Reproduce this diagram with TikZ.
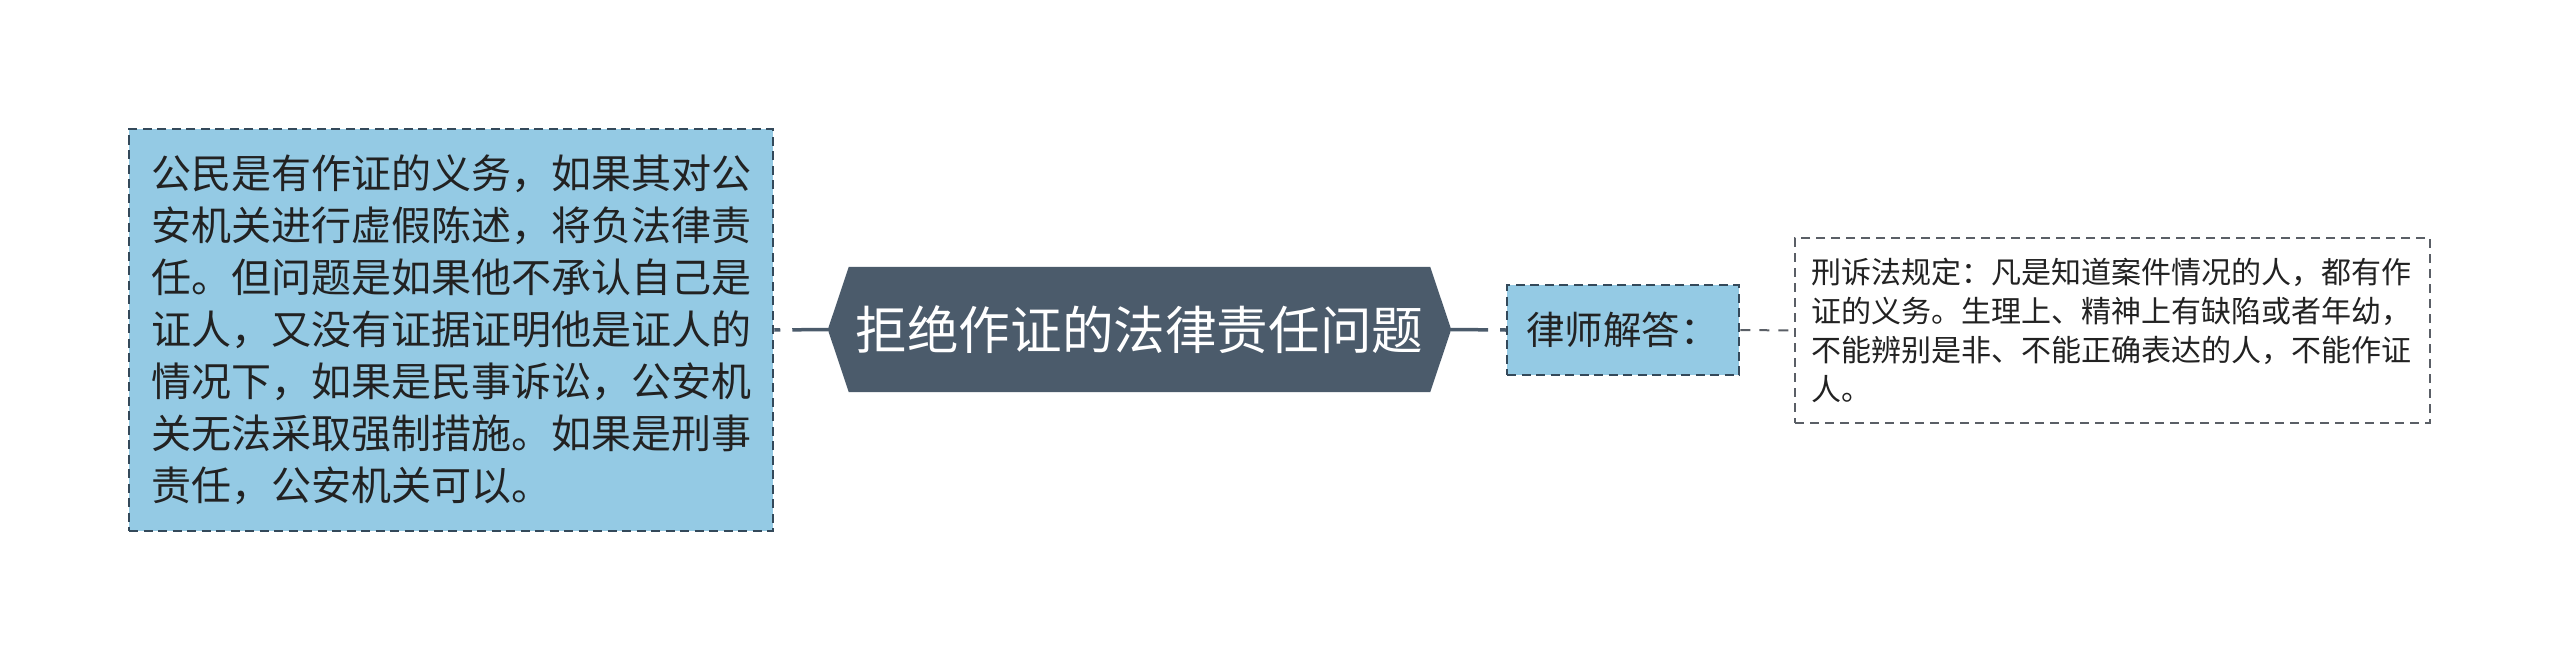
\documentclass[tikz,border=0pt]{standalone}
\usepackage{fontspec}
\setmainfont{Noto Sans CJK SC}
\usetikzlibrary{backgrounds}
\definecolor{hexfill}{HTML}{4B5B6B}
\definecolor{bluefill}{HTML}{94CAE4}
\definecolor{blueline}{HTML}{34495A}
\definecolor{txtdark}{HTML}{222222}
\definecolor{grayline}{HTML}{5A5F66}
\definecolor{conn}{HTML}{4B5B6B}
\tikzset{
  bluebox/.style={draw=blueline, fill=bluefill, line width=2.5pt,
    dash pattern=on 9pt off 5.5pt, text=txtdark, align=left, inner ysep=0pt},
  whitebox/.style={draw=grayline, fill=white, line width=2pt,
    dash pattern=on 9pt off 6pt, text=txtdark, align=left, inner ysep=0pt},
  titlebox/.style={text=white, inner sep=0pt, minimum width=581pt, minimum height=125pt},
  connline/.style={draw=conn, line width=3.5pt},
  grayconn/.style={draw=grayline, line width=2pt, dash pattern=on 10pt off 9pt}
}
\begin{document}
\begin{tikzpicture}[x=1pt,y=-1pt]
\useasboundingbox (0,0) rectangle (2560,661);

% left box
\node[bluebox, minimum width=644pt, minimum height=402pt, text width=600pt, inner xsep=22pt,
      font=\fontsize{40pt}{52pt}\selectfont] (left) at (451,330)
 {公民是有作证的义务，如果其对公\\安机关进行虚假陈述，将负法律责\\任。但问题是如果他不承认自己是\\证人，又没有证据证明他是证人的\\情况下，如果是民事诉讼，公安机\\关无法采取强制措施。如果是刑事\\责任，公安机关可以。};

% title hexagon
\node[titlebox, font=\fontsize{51.6pt}{62pt}\selectfont] (title) at (1139.5,329.5) {拒绝作证的法律责任问题};
\coordinate (titleL) at ([xshift=-21pt]title.west);
\coordinate (titleR) at ([xshift=21pt]title.east);
\begin{scope}[on background layer]
\fill[hexfill] (title.north west) -- (title.north east) -- (titleR) -- (title.south east)
  -- (title.south west) -- (titleL) -- cycle;
\end{scope}

% lawyer box
\node[bluebox, minimum width=232pt, minimum height=90pt, text width=194pt, inner xsep=19pt,
      font=\fontsize{38.5pt}{46pt}\selectfont] (lawyer) at (1623,330) {律师解答：};

% right box
\node[whitebox, minimum width=635pt, minimum height=185pt, text width=602pt, inner xsep=16.5pt,
      font=\fontsize{30pt}{39pt}\selectfont] (answer) at (2112.5,330.5)
 {刑诉法规定：凡是知道案件情况的人，都有作\\证的义务。生理上、精神上有缺陷或者年幼，\\不能辨别是非、不能正确表达的人，不能作证\\人。};

% connectors
\draw[connline, dash pattern=on 6pt off 12pt on 80pt off 0pt] (left.east) -- (titleL);
\draw[connline, dash pattern=on 37pt off 12pt on 30pt off 0pt] (titleR) -- (lawyer.west);
\draw[grayconn] (lawyer.east) -- (answer.west);
\end{tikzpicture}
\end{document}
